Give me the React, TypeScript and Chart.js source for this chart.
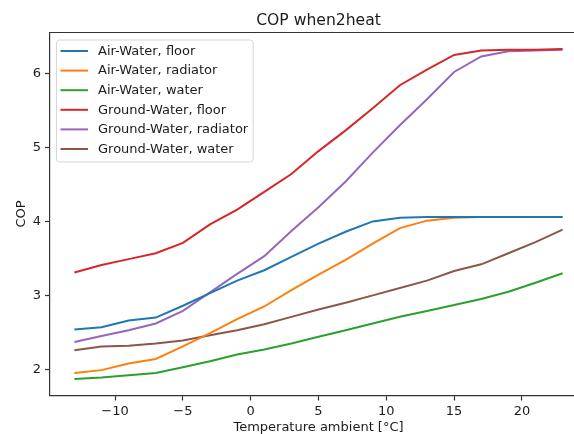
import React, { useEffect, useRef } from 'react';
import { Chart, registerables } from 'chart.js';

Chart.register(...registerables);

// ---- data ----
const temps = [-13, -11, -9, -7, -5, -3, -1, 1, 3, 5, 7, 9, 11, 13, 15, 17, 19, 21, 23];
const airWaterFloor = [2.54, 2.57, 2.66, 2.70, 2.86, 3.03, 3.20, 3.34, 3.52, 3.70, 3.86, 4.00, 4.05, 4.06, 4.06, 4.06, 4.06, 4.06, 4.06];
const airWaterRadiator = [1.95, 1.99, 2.08, 2.14, 2.31, 2.49, 2.68, 2.85, 3.07, 3.28, 3.48, 3.70, 3.91, 4.01, 4.05, 4.06, 4.06, 4.06, 4.06];
const airWaterWater = [1.87, 1.89, 1.92, 1.95, 2.03, 2.11, 2.20, 2.27, 2.35, 2.44, 2.53, 2.62, 2.71, 2.79, 2.87, 2.95, 3.05, 3.17, 3.30];
const groundWaterFloor = [3.31, 3.41, 3.49, 3.57, 3.71, 3.96, 4.16, 4.40, 4.64, 4.95, 5.23, 5.53, 5.84, 6.05, 6.25, 6.31, 6.32, 6.32, 6.33];
const groundWaterRadiator = [2.37, 2.45, 2.53, 2.62, 2.79, 3.04, 3.29, 3.53, 3.87, 4.19, 4.54, 4.93, 5.30, 5.65, 6.02, 6.23, 6.30, 6.31, 6.32];
const groundWaterWater = [2.26, 2.31, 2.32, 2.35, 2.39, 2.46, 2.53, 2.61, 2.71, 2.81, 2.90, 3.00, 3.10, 3.20, 3.33, 3.42, 3.57, 3.72, 3.89];

const seriesNames = [
  'Air-Water, floor',
  'Air-Water, radiator',
  'Air-Water, water',
  'Ground-Water, floor',
  'Ground-Water, radiator',
  'Ground-Water, water',
];
const seriesValues = [airWaterFloor, airWaterRadiator, airWaterWater, groundWaterFloor, groundWaterRadiator, groundWaterWater];
const seriesColors = ['#1f77b4', '#ff7f0e', '#2ca02c', '#d62728', '#9467bd', '#8c564b'];

const xTicks = [-10, -5, 0, 5, 10, 15, 20];
const yTicks = [2, 3, 4, 5, 6];

const titleText = 'COP when2heat';
const xTitle = 'Temperature ambient [°C]';
const yTitle = 'COP';

const FONT = '"DejaVu Sans", Verdana, sans-serif';
const TEXT = '#1c1c1c';
const AXIS = '#333333';

const fmt = (v: number) => (v < 0 ? '\u2212' + Math.abs(v) : String(v));

const overlay = {
  id: 'overlay',
  afterDraw(chart: any) {
    const { ctx, chartArea: a } = chart;
    ctx.save();
    // top frame line (right edge lies outside the visible window)
    ctx.strokeStyle = AXIS;
    ctx.lineWidth = 1.2;
    ctx.beginPath();
    ctx.moveTo(a.left, a.top);
    ctx.lineTo(a.right, a.top);
    ctx.stroke();

    // title
    ctx.fillStyle = TEXT;
    ctx.font = `15.6px ${FONT}`;
    ctx.textAlign = 'center';
    ctx.textBaseline = 'alphabetic';
    ctx.fillText(titleText, (a.left + a.right) / 2, a.top - 7.5);

    // axis titles
    ctx.font = `13px ${FONT}`;
    ctx.textBaseline = 'middle';
    ctx.fillText(xTitle, (a.left + a.right) / 2, 428);
    ctx.save();
    ctx.translate(22, (a.top + a.bottom) / 2);
    ctx.rotate(-Math.PI / 2);
    ctx.fillText(yTitle, 0, 0);
    ctx.restore();

    // legend
    const ds = chart.data.datasets;
    ctx.font = `13px ${FONT}`;
    let maxW = 0;
    ds.forEach((d: any) => { maxW = Math.max(maxW, ctx.measureText(d.label).width); });
    const bx = a.left + 6.5;
    const by = a.top + 7.5;
    const rowH = 19.6;
    const textX = bx + 41.5;
    const bw = textX - bx + maxW + 5;
    const bh = 11 + rowH * (ds.length - 1) + 11 + 2;
    const r = 3;
    ctx.beginPath();
    ctx.moveTo(bx + r, by);
    ctx.lineTo(bx + bw - r, by);
    ctx.quadraticCurveTo(bx + bw, by, bx + bw, by + r);
    ctx.lineTo(bx + bw, by + bh - r);
    ctx.quadraticCurveTo(bx + bw, by + bh, bx + bw - r, by + bh);
    ctx.lineTo(bx + r, by + bh);
    ctx.quadraticCurveTo(bx, by + bh, bx, by + bh - r);
    ctx.lineTo(bx, by + r);
    ctx.quadraticCurveTo(bx, by, bx + r, by);
    ctx.closePath();
    ctx.fillStyle = 'rgba(255,255,255,0.8)';
    ctx.fill();
    ctx.strokeStyle = '#d6d6d6';
    ctx.lineWidth = 1;
    ctx.stroke();

    ds.forEach((d: any, i: number) => {
      const y = by + 11 + i * rowH;
      ctx.strokeStyle = d.borderColor;
      ctx.lineWidth = 2;
      ctx.beginPath();
      ctx.moveTo(bx + 4, y);
      ctx.lineTo(bx + 31.5, y);
      ctx.stroke();
      ctx.fillStyle = TEXT;
      ctx.textAlign = 'left';
      ctx.textBaseline = 'middle';
      ctx.fillText(d.label, textX, y + 0.5);
    });
    ctx.restore();
  },
};

export default function App() {
  const ref = useRef<HTMLCanvasElement | null>(null);

  useEffect(() => {
    document.body.style.margin = '0';
    const canvas = ref.current;
    if (!canvas) return;
    const chart = new Chart(canvas, {
      type: 'line',
      data: {
        datasets: seriesNames.map((name, i) => ({
          label: name,
          data: temps.map((t, j) => ({ x: t, y: seriesValues[i][j] })),
          borderColor: seriesColors[i],
          backgroundColor: seriesColors[i],
          borderWidth: 2,
          pointRadius: 0,
          tension: 0,
          fill: false,
        })),
      },
      options: {
        responsive: false,
        animation: false,
        devicePixelRatio: 1,
        layout: { padding: { top: 32.5, right: 13, left: 0, bottom: 0 } },
        plugins: {
          legend: { display: false },
          title: { display: false },
          tooltip: { enabled: false },
        },
        scales: {
          x: {
            type: 'linear',
            min: -14.8,
            max: 24.8,
            afterFit: (s: any) => { s.height = 38.5; },
            afterBuildTicks: (s: any) => { s.ticks = xTicks.map((v) => ({ value: v })); },
            ticks: {
              font: { family: FONT, size: 13 },
              color: TEXT,
              padding: 3,
              maxRotation: 0,
              autoSkip: false,
              callback: (v: any) => fmt(Number(v)),
            },
            grid: { drawOnChartArea: false, drawTicks: true, tickLength: 5, color: AXIS, tickWidth: 1.2 },
            border: { display: true, color: AXIS, width: 1.2 },
          },
          y: {
            type: 'linear',
            min: 1.647,
            max: 6.553,
            afterFit: (s: any) => { s.width = 50; },
            afterBuildTicks: (s: any) => { s.ticks = yTicks.map((v) => ({ value: v })); },
            ticks: {
              font: { family: FONT, size: 13 },
              color: TEXT,
              padding: 4,
              autoSkip: false,
              callback: (v: any) => fmt(Number(v)),
            },
            grid: { drawOnChartArea: false, drawTicks: true, tickLength: 5, color: AXIS, tickWidth: 1.2 },
            border: { display: true, color: AXIS, width: 1.2 },
          },
        },
      },
      plugins: [overlay],
    } as any);
    return () => chart.destroy();
  }, []);

  return (
    <div style={{ position: 'fixed', left: 0, top: 0, width: 574, height: 434, overflow: 'hidden', background: '#fff' }}>
      <canvas ref={ref} width={600} height={434} style={{ width: 600, height: 434, display: 'block' }} />
    </div>
  );
}
